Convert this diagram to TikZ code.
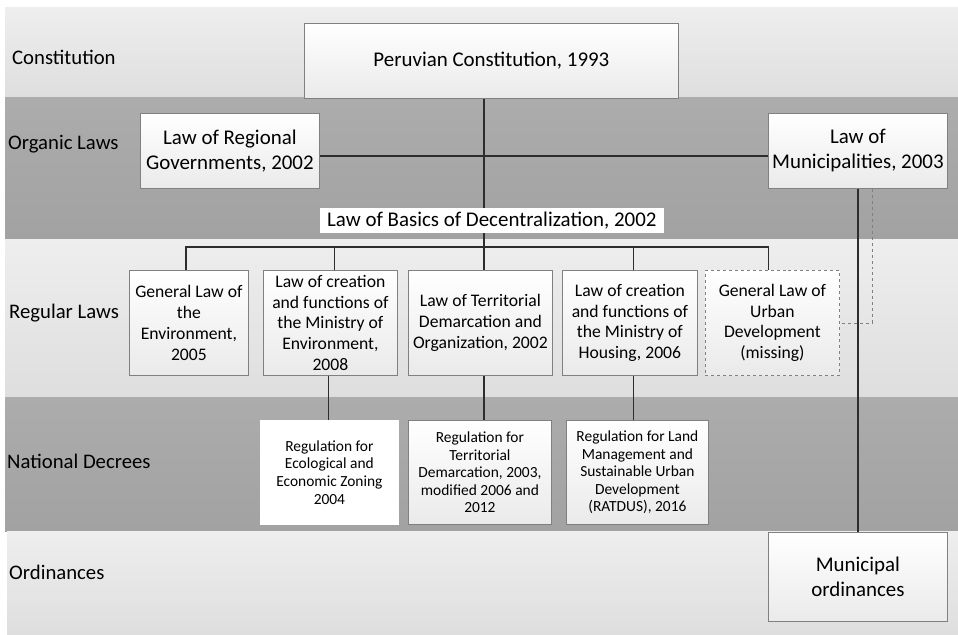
\documentclass[tikz,border=0pt]{standalone}
\usepackage{fontspec}
\setmainfont{Carlito}
\usetikzlibrary{shadows}
\definecolor{lbtop}{RGB}{238,238,238}
\definecolor{lbbot}{RGB}{222,222,222}
\definecolor{dbtop}{RGB}{172,172,172}
\definecolor{dbbot}{RGB}{162,162,162}
\definecolor{boxbot}{RGB}{234,234,234}
\definecolor{boxline}{RGB}{128,128,128}
\definecolor{connc}{RGB}{45,45,45}
\begin{document}
\begin{tikzpicture}[x={(1bp,0)},y={(0,-1bp)},
  lightband/.style={draw=none,top color=lbtop,bottom color=lbbot},
  darkband/.style={draw=none,top color=dbtop,bottom color=dbbot},
  lawbox/.style={draw=boxline,line width=0.8bp,top color=white,bottom color=boxbot,
    align=center,inner sep=0pt,anchor=north west,text=black,
    drop shadow={shadow xshift=1bp,shadow yshift=-1bp,opacity=0.2,fill=black}},
  bigtext/.style={font=\fontsize{21}{25}\selectfont},
  midtext/.style={font=\fontsize{17.7}{21}\selectfont},
  smalltext/.style={font=\fontsize{15.5}{17.6}\selectfont},
  bandlabel/.style={anchor=base west,inner sep=0pt,font=\fontsize{20.8}{25}\selectfont},
  conn/.style={draw=connc,line width=1.6bp},
  dashconn/.style={draw=boxline,line width=0.8bp,dashed}]
\useasboundingbox (0,0) rectangle (958,635);
\fill[white] (0,0) rectangle (958,635);
% bands
\shade[lightband] (5,8) rectangle (958,98);
\shade[darkband] (5,98) rectangle (958,240);
\shade[lightband] (5,240) rectangle (958,397);
\shade[darkband] (5,397) rectangle (958,531);
\shade[lightband] (7,531) rectangle (958,635);
% band labels
\node[bandlabel] (lconst) at (12,65) {Constitution};
\node[bandlabel] (lorg) at (8,150) {Organic Laws};
\node[bandlabel] (lreg) at (9,318) {Regular Laws};
\node[bandlabel] (lnat) at (7,468) {National Decrees};
\node[bandlabel] (lord) at (9,579) {Ordinances};
% coordinates
\coordinate (bus) at (484,247);
% boxes
\node[lawbox,bigtext,minimum width=374bp,minimum height=75bp] (const) at (304,23) {Peruvian Constitution, 1993};
\node[lawbox,bigtext,minimum width=179bp,minimum height=75bp] (reg) at (140,113) {Law of Regional\\Governments, 2002};
\node[lawbox,bigtext,minimum width=179bp,minimum height=75bp] (mun) at (768,113) {Law of\\Municipalities, 2003};
\node[lawbox,bigtext,minimum width=179bp,minimum height=89bp] (mord) at (768,532) {Municipal\\ordinances};
% connectors (drawn before the overlaying boxes)
\draw[conn] ([yshift=-5bp]reg.east) -- ([yshift=-5bp]mun.west);
\draw[conn] (bus |- const.south) -- (bus);
\draw[conn] (mun.south) -- (mord.north);
\node[lawbox,bigtext,draw=white,top color=white,bottom color=white,minimum width=343bp,minimum height=24bp] (dec) at (320,208) {Law of Basics of Decentralization, 2002};
% regular laws
\node[lawbox,midtext,minimum width=119bp,minimum height=105bp] (r1) at (129,270) {General Law of\\the\\Environment,\\2005};
\node[lawbox,midtext,minimum width=134bp,minimum height=105bp] (r2) at (263,270) {Law of creation\\and functions of\\the Ministry of\\Environment,\\2008};
\node[lawbox,midtext,minimum width=144bp,minimum height=105bp] (r3) at (408,270) {Law of Territorial\\Demarcation and\\Organization, 2002};
\node[lawbox,midtext,minimum width=135bp,minimum height=105bp] (r4) at (562,270) {Law of creation\\and functions of\\the Ministry of\\Housing, 2006};
\node[lawbox,midtext,dashed,drop shadow={opacity=0},minimum width=134bp,minimum height=105bp] (r5) at (705,270) {General Law of\\Urban\\Development\\(missing)};
% national decrees
\node[lawbox,smalltext,draw=white,top color=white,bottom color=white,minimum width=138bp,minimum height=104bp] (dA) at (260,420) {Regulation for\\Ecological and\\Economic Zoning\\2004};
\node[lawbox,smalltext,minimum width=143bp,minimum height=104bp] (dB) at (408,420) {Regulation for\\Territorial\\Demarcation, 2003,\\modified 2006 and\\2012};
\node[lawbox,smalltext,minimum width=142bp,minimum height=104bp] (dC) at (566,420) {Regulation for Land\\Management and\\Sustainable Urban\\Development\\(RATDUS), 2016};
% bus to regular laws
\draw[conn] ([xshift=-3bp]r1.north) |- (bus);
\draw[conn] ([xshift=-4bp]r5.north) |- (bus);
\draw[conn] ([xshift=4bp]r2.north) -- ([xshift=4bp]r2.north |- bus);
\draw[conn] (bus) -- (bus |- r3.north);
\draw[conn] ([xshift=3.5bp]r4.north) -- ([xshift=3.5bp]r4.north |- bus);
\draw[dashconn] ([xshift=14.5bp]mun.south) |- (r5.east);
% regular to decrees
\draw[conn] ([xshift=-1bp]dA.north) -- ([xshift=-1bp]dA.north |- r2.south);
\draw[conn] (bus |- r3.south) -- (bus |- dB.north);
\draw[conn] ([xshift=-4bp]dC.north) -- ([xshift=-4bp]dC.north |- r4.south);
\end{tikzpicture}
\end{document}
